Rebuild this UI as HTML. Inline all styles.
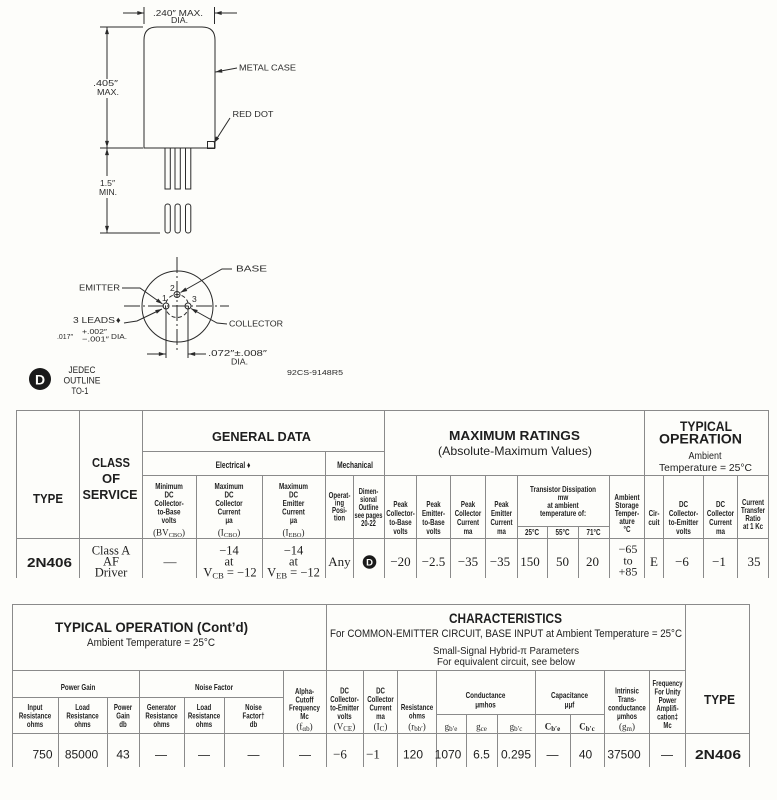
<!DOCTYPE html>
<html><head><meta charset="utf-8">
<style>
html,body{margin:0;padding:0;background:#fdfdfa;}
svg{display:block}
text{fill:#1e1e1e;font-family:"Liberation Sans",sans-serif}
.d{font-size:8.5px;fill:#2a2a2a}
.n{font-weight:bold;font-size:8.5px;text-anchor:middle}
.m{text-anchor:middle}
.s{font-family:"Liberation Serif",serif}
.b{font-weight:bold}
.g line{stroke:#8a8a8a;stroke-width:1}
.dr line,.dr path,.dr polyline,.dr rect,.dr circle{stroke:#2a2a2a;stroke-width:1;fill:none}
</style></head>
<body>
<svg width="777" height="800" viewBox="0 0 777 800" xmlns="http://www.w3.org/2000/svg">
<defs>
<marker id="ar" viewBox="0 0 10 6" refX="10" refY="3" markerWidth="7" markerHeight="4" orient="auto" markerUnits="userSpaceOnUse"><path d="M0,0L10,3L0,6z" fill="#2a2a2a"/></marker>
</defs>

<!-- ================= DRAWING ================= -->
<g class="dr">
<path d="M144,148 L144,40 Q144,27 157,27 L202,27 Q215,27 215,40 L215,148 Z"/>
<rect x="207.5" y="141.5" width="7" height="7"/>
<rect x="165" y="148" width="5.3" height="41"/>
<rect x="175" y="148" width="5.3" height="41"/>
<rect x="185.5" y="148" width="5.3" height="41"/>
<rect x="165" y="204" width="5.3" height="29" rx="2.5"/>
<rect x="175" y="204" width="5.3" height="29" rx="2.5"/>
<rect x="185.5" y="204" width="5.3" height="29" rx="2.5"/>
<line x1="123" y1="13" x2="144" y2="13" marker-end="url(#ar)"/>
<line x1="237" y1="13" x2="215" y2="13" marker-end="url(#ar)"/>
<line x1="144" y1="7" x2="144" y2="24"/>
<line x1="214.5" y1="7" x2="214.5" y2="24"/>
<line x1="100" y1="27" x2="143" y2="27"/>
<line x1="100" y1="148" x2="143" y2="148"/>
<line x1="100" y1="233" x2="160" y2="233"/>
<line x1="107" y1="79" x2="107" y2="27.5" marker-end="url(#ar)"/>
<line x1="107" y1="98" x2="107" y2="147.5" marker-end="url(#ar)"/>
<line x1="107" y1="176" x2="107" y2="148.5" marker-end="url(#ar)"/>
<line x1="107" y1="198" x2="107" y2="232.5" marker-end="url(#ar)"/>
<line x1="237" y1="68" x2="215.5" y2="72" marker-end="url(#ar)"/>
<line x1="230" y1="118" x2="214" y2="143" marker-end="url(#ar)"/>
<circle cx="177.5" cy="306.5" r="35.5"/>
<line x1="124" y1="306" x2="229" y2="306" stroke-dasharray="16 3 2 3"/>
<line x1="177" y1="257" x2="177" y2="352" stroke-dasharray="16 3 2 3"/>
<circle cx="177" cy="306" r="11.5" stroke-dasharray="4 2.5"/>
<circle cx="166" cy="306" r="3"/>
<circle cx="177" cy="294.5" r="3"/>
<circle cx="188" cy="306" r="3"/>
<line x1="166" y1="309" x2="166" y2="358"/>
<line x1="188" y1="309" x2="188" y2="358"/>
<line x1="147" y1="354" x2="165.5" y2="354" marker-end="url(#ar)"/>
<line x1="206" y1="354" x2="188.5" y2="354" marker-end="url(#ar)"/>
<polyline points="232,269 222,269 180.5,292.5" marker-end="url(#ar)"/>
<polyline points="122,288 140,288 162.5,304" marker-end="url(#ar)"/>
<polyline points="227,324 217,323 191,308.5" marker-end="url(#ar)"/>
<polyline points="124,323 137,321 162,309" marker-end="url(#ar)"/>
</g>
<g>
<text class="d" x="153" y="16" textLength="50" lengthAdjust="spacingAndGlyphs">.240″ MAX.</text>
<text class="d" x="171" y="23" textLength="17" lengthAdjust="spacingAndGlyphs">DIA.</text>
<text class="d" x="239" y="70.5" textLength="57" lengthAdjust="spacingAndGlyphs">METAL CASE</text>
<text class="d" x="93" y="86" textLength="25" lengthAdjust="spacingAndGlyphs">.405″</text>
<text class="d" x="97" y="95" textLength="22" lengthAdjust="spacingAndGlyphs">MAX.</text>
<text class="d" x="232.5" y="117" textLength="41" lengthAdjust="spacingAndGlyphs">RED DOT</text>
<text class="d" x="100" y="186" textLength="15" lengthAdjust="spacingAndGlyphs">1.5″</text>
<text class="d" x="99" y="195" textLength="18" lengthAdjust="spacingAndGlyphs">MIN.</text>
<text class="d" x="236" y="271.5" textLength="31" lengthAdjust="spacingAndGlyphs">BASE</text>
<text class="d" x="79" y="290.5" textLength="41" lengthAdjust="spacingAndGlyphs">EMITTER</text>
<text class="d" x="229" y="326.5" textLength="54" lengthAdjust="spacingAndGlyphs">COLLECTOR</text>
<text class="d" x="73" y="323" textLength="42" lengthAdjust="spacingAndGlyphs">3 LEADS</text>
<text class="d" x="116" y="323" style="font-size:9px">♦</text>
<text class="d" x="57" y="339" textLength="16" lengthAdjust="spacingAndGlyphs" style="font-size:7.5px">.017″</text>
<text class="d" x="82" y="334" textLength="25" lengthAdjust="spacingAndGlyphs" style="font-size:7.5px">+.002″</text>
<text class="d" x="82" y="341.5" textLength="27" lengthAdjust="spacingAndGlyphs" style="font-size:7.5px">−.001″</text>
<text class="d" x="111" y="339" textLength="16" lengthAdjust="spacingAndGlyphs" style="font-size:7.5px">DIA.</text>
<text class="d" x="170" y="291">2</text>
<text class="d" x="162" y="301">1</text>
<text class="d" x="192" y="302">3</text>
<text class="d" x="208" y="356" textLength="59" lengthAdjust="spacingAndGlyphs">.072″±.008″</text>
<text class="d" x="231" y="364.5" textLength="17" lengthAdjust="spacingAndGlyphs">DIA.</text>
<circle cx="40" cy="379" r="11" fill="#1a1a1a"/>
<text x="40" y="384.5" class="m b" style="font-size:14px;fill:#fdfdfa">D</text>
<text class="m" x="82" y="373" style="font-size:9px" textLength="27" lengthAdjust="spacingAndGlyphs">JEDEC</text>
<text class="m" x="82" y="383.5" style="font-size:9px" textLength="37" lengthAdjust="spacingAndGlyphs">OUTLINE</text>
<text class="m" x="80" y="394" style="font-size:9px" textLength="17" lengthAdjust="spacingAndGlyphs">TO-1</text>
<text class="d" x="287" y="375" style="font-size:7.5px" textLength="56" lengthAdjust="spacingAndGlyphs">92CS-9148R5</text>
</g>

<!-- ================= TABLE 1 LINES ================= -->
<g class="g">
<line x1="16" y1="410.5" x2="769" y2="410.5"/>
<line x1="16" y1="538.5" x2="769" y2="538.5"/>
<line x1="142" y1="451.5" x2="385" y2="451.5"/>
<line x1="142" y1="475.5" x2="769" y2="475.5"/>
<line x1="517" y1="526.5" x2="610" y2="526.5"/>
<line x1="16.5" y1="410" x2="16.5" y2="578"/>
<line x1="79.5" y1="410" x2="79.5" y2="578"/>
<line x1="142.5" y1="410" x2="142.5" y2="578"/>
<line x1="384.5" y1="410" x2="384.5" y2="578"/>
<line x1="644.5" y1="410" x2="644.5" y2="578"/>
<line x1="768.5" y1="410" x2="768.5" y2="578"/>
<line x1="325.5" y1="451" x2="325.5" y2="578"/>
<line x1="196.5" y1="475" x2="196.5" y2="578"/>
<line x1="262.5" y1="475" x2="262.5" y2="578"/>
<line x1="353.5" y1="475" x2="353.5" y2="578"/>
<line x1="416.5" y1="475" x2="416.5" y2="578"/>
<line x1="450.5" y1="475" x2="450.5" y2="578"/>
<line x1="485.5" y1="475" x2="485.5" y2="578"/>
<line x1="517.5" y1="475" x2="517.5" y2="578"/>
<line x1="609.5" y1="475" x2="609.5" y2="578"/>
<line x1="663.5" y1="475" x2="663.5" y2="578"/>
<line x1="703.5" y1="475" x2="703.5" y2="578"/>
<line x1="737.5" y1="475" x2="737.5" y2="578"/>
<line x1="547.5" y1="526" x2="547.5" y2="578"/>
<line x1="578.5" y1="526" x2="578.5" y2="578"/>
</g>

<!-- TABLE 1 HEADINGS -->
<text class="m b" x="48" y="503" style="font-size:12.5px" textLength="30" lengthAdjust="spacingAndGlyphs">TYPE</text>
<text class="m b" x="111" y="467" style="font-size:13px" textLength="38" lengthAdjust="spacingAndGlyphs">CLASS</text>
<text class="m b" x="111" y="483" style="font-size:13px">OF</text>
<text class="m b" x="110" y="499" style="font-size:13px" textLength="55" lengthAdjust="spacingAndGlyphs">SERVICE</text>
<text class="m b" x="261.5" y="441" style="font-size:13px" textLength="99" lengthAdjust="spacingAndGlyphs">GENERAL DATA</text>
<text class="m b" x="514.5" y="440" style="font-size:13px" textLength="131" lengthAdjust="spacingAndGlyphs">MAXIMUM RATINGS</text>
<text class="m" x="515" y="455" style="font-size:12px" textLength="154" lengthAdjust="spacingAndGlyphs">(Absolute-Maximum Values)</text>
<text class="m b" x="706" y="431" style="font-size:13.5px" textLength="52" lengthAdjust="spacingAndGlyphs">TYPICAL</text>
<text class="m b" x="700.5" y="443.5" style="font-size:13.5px" textLength="83" lengthAdjust="spacingAndGlyphs">OPERATION</text>
<text class="m" x="705" y="459" style="font-size:10px" textLength="33" lengthAdjust="spacingAndGlyphs">Ambient</text>
<text class="m" x="705.5" y="471" style="font-size:10.5px" textLength="93" lengthAdjust="spacingAndGlyphs">Temperature = 25°C</text>

<text class="n" transform="translate(233,468) scale(.74,1)" style="font-size:9px">Electrical ♦</text>
<text class="n" transform="translate(355,468) scale(.74,1)" style="font-size:9px">Mechanical</text>

<text class="n" transform="translate(169,489) scale(.74,1)"><tspan x="0">Minimum</tspan><tspan x="0" dy="8.5">DC</tspan><tspan x="0" dy="8.5">Collector-</tspan><tspan x="0" dy="8.5">to-Base</tspan><tspan x="0" dy="8.5">volts</tspan></text>
<text class="n" transform="translate(229,489) scale(.74,1)"><tspan x="0">Maximum</tspan><tspan x="0" dy="8.5">DC</tspan><tspan x="0" dy="8.5">Collector</tspan><tspan x="0" dy="8.5">Current</tspan><tspan x="0" dy="8.5">μa</tspan></text>
<text class="n" transform="translate(293.5,489) scale(.74,1)"><tspan x="0">Maximum</tspan><tspan x="0" dy="8.5">DC</tspan><tspan x="0" dy="8.5">Emitter</tspan><tspan x="0" dy="8.5">Current</tspan><tspan x="0" dy="8.5">μa</tspan></text>
<text class="m s" x="169" y="535.5" style="font-size:9px">(BV<tspan font-size="6.5" dy="1.5">CBO</tspan><tspan dy="-1.5">)</tspan></text>
<text class="m s" x="229" y="535.5" style="font-size:9px">(I<tspan font-size="6.5" dy="1.5">CBO</tspan><tspan dy="-1.5">)</tspan></text>
<text class="m s" x="293.5" y="535.5" style="font-size:9px">(I<tspan font-size="6.5" dy="1.5">EBO</tspan><tspan dy="-1.5">)</tspan></text>
<text class="n" transform="translate(339.5,498) scale(.72,1)"><tspan x="0">Operat-</tspan><tspan x="0" dy="7.5">ing</tspan><tspan x="0" dy="7.5">Posi-</tspan><tspan x="0" dy="7.5">tion</tspan></text>
<text class="n" transform="translate(368.5,494) scale(.68,1)"><tspan x="0">Dimen-</tspan><tspan x="0" dy="8">sional</tspan><tspan x="0" dy="8">Outline</tspan><tspan x="0" dy="8">see pages</tspan><tspan x="0" dy="8">20-22</tspan></text>

<text class="n" transform="translate(400.5,507) scale(.72,1)"><tspan x="0">Peak</tspan><tspan x="0" dy="9">Collector-</tspan><tspan x="0" dy="9">to-Base</tspan><tspan x="0" dy="9">volts</tspan></text>
<text class="n" transform="translate(433.5,507) scale(.72,1)"><tspan x="0">Peak</tspan><tspan x="0" dy="9">Emitter-</tspan><tspan x="0" dy="9">to-Base</tspan><tspan x="0" dy="9">volts</tspan></text>
<text class="n" transform="translate(468,507) scale(.72,1)"><tspan x="0">Peak</tspan><tspan x="0" dy="9">Collector</tspan><tspan x="0" dy="9">Current</tspan><tspan x="0" dy="9">ma</tspan></text>
<text class="n" transform="translate(501.5,507) scale(.72,1)"><tspan x="0">Peak</tspan><tspan x="0" dy="9">Emitter</tspan><tspan x="0" dy="9">Current</tspan><tspan x="0" dy="9">ma</tspan></text>
<text class="n" transform="translate(563,492) scale(.74,1)"><tspan x="0">Transistor Dissipation</tspan><tspan x="0" dy="8">mw</tspan><tspan x="0" dy="8">at ambient</tspan><tspan x="0" dy="8">temperature of:</tspan></text>
<text class="n" transform="translate(532,535) scale(.74,1)">25°C</text>
<text class="n" transform="translate(562.5,535) scale(.74,1)">55°C</text>
<text class="n" transform="translate(593.5,535) scale(.74,1)">71°C</text>
<text class="n" transform="translate(627,500) scale(.74,1)"><tspan x="0">Ambient</tspan><tspan x="0" dy="8">Storage</tspan><tspan x="0" dy="8">Temper-</tspan><tspan x="0" dy="8">ature</tspan><tspan x="0" dy="8">°C</tspan></text>
<text class="n" transform="translate(654,516) scale(.74,1)"><tspan x="0">Cir-</tspan><tspan x="0" dy="9">cuit</tspan></text>
<text class="n" transform="translate(683.5,507) scale(.74,1)"><tspan x="0">DC</tspan><tspan x="0" dy="9">Collector-</tspan><tspan x="0" dy="9">to-Emitter</tspan><tspan x="0" dy="9">volts</tspan></text>
<text class="n" transform="translate(720.5,507) scale(.74,1)"><tspan x="0">DC</tspan><tspan x="0" dy="9">Collector</tspan><tspan x="0" dy="9">Current</tspan><tspan x="0" dy="9">ma</tspan></text>
<text class="n" transform="translate(753,505) scale(.72,1)"><tspan x="0">Current</tspan><tspan x="0" dy="8">Transfer</tspan><tspan x="0" dy="8">Ratio</tspan><tspan x="0" dy="8">at 1 Kc</tspan></text>

<!-- TABLE 1 DATA -->
<text class="m b" x="49.5" y="567" style="font-size:13px" textLength="45" lengthAdjust="spacingAndGlyphs">2N406</text>
<g style="font-size:13px">
<text class="m s" x="111" y="554.5" style="font-size:12.5px">Class A</text>
<text class="m s" x="111" y="565.5" style="font-size:12.5px">AF</text>
<text class="m s" x="111" y="576.5" style="font-size:12.5px">Driver</text>
<text class="m s" x="170" y="566">—</text>
<text class="m s" x="229" y="554.5" style="font-size:12.5px">−14</text>
<text class="m s" x="229" y="565.5" style="font-size:12.5px">at</text>
<text class="m s" x="230" y="576.5" style="font-size:12.5px">V<tspan font-size="8.5" dy="2">CB</tspan><tspan dy="-2"> = −12</tspan></text>
<text class="m s" x="293.5" y="554.5" style="font-size:12.5px">−14</text>
<text class="m s" x="293.5" y="565.5" style="font-size:12.5px">at</text>
<text class="m s" x="293.5" y="576.5" style="font-size:12.5px">V<tspan font-size="8.5" dy="2">EB</tspan><tspan dy="-2"> = −12</tspan></text>
<text class="m s" x="339.5" y="566">Any</text>
<text class="m s" x="400.5" y="566">−20</text>
<text class="m s" x="433.5" y="566">−2.5</text>
<text class="m s" x="468" y="566">−35</text>
<text class="m s" x="500" y="566">−35</text>
<text class="m s" x="530" y="566">150</text>
<text class="m s" x="562.5" y="566">50</text>
<text class="m s" x="592.5" y="566">20</text>
<text class="m s" x="628" y="553" style="font-size:12px">−65</text>
<text class="m s" x="628" y="564.5" style="font-size:12px">to</text>
<text class="m s" x="628" y="575.5" style="font-size:12px">+85</text>
<text class="m s" x="654" y="566">E</text>
<text class="m s" x="682" y="566">−6</text>
<text class="m s" x="719" y="566">−1</text>
<text class="m s" x="754" y="566">35</text>
</g>
<circle cx="369.5" cy="562" r="6.8" fill="#1a1a1a"/>
<text x="369.5" y="565.5" class="m b" style="font-size:9.5px;fill:#fdfdfa">D</text>

<!-- ================= TABLE 2 LINES ================= -->
<g class="g">
<line x1="12" y1="604.5" x2="750" y2="604.5"/>
<line x1="12" y1="670.5" x2="686" y2="670.5"/>
<line x1="12" y1="733.5" x2="750" y2="733.5"/>
<line x1="12" y1="697.5" x2="284" y2="697.5"/>
<line x1="436" y1="714.5" x2="605" y2="714.5"/>
<line x1="12.5" y1="604" x2="12.5" y2="767"/>
<line x1="326.5" y1="604" x2="326.5" y2="767"/>
<line x1="685.5" y1="604" x2="685.5" y2="767"/>
<line x1="749.5" y1="604" x2="749.5" y2="767"/>
<line x1="139.5" y1="670" x2="139.5" y2="767"/>
<line x1="283.5" y1="670" x2="283.5" y2="767"/>
<line x1="363.5" y1="670" x2="363.5" y2="767"/>
<line x1="397.5" y1="670" x2="397.5" y2="767"/>
<line x1="436.5" y1="670" x2="436.5" y2="767"/>
<line x1="535.5" y1="670" x2="535.5" y2="767"/>
<line x1="604.5" y1="670" x2="604.5" y2="767"/>
<line x1="649.5" y1="670" x2="649.5" y2="767"/>
<line x1="58.5" y1="697" x2="58.5" y2="767"/>
<line x1="107.5" y1="697" x2="107.5" y2="767"/>
<line x1="184.5" y1="697" x2="184.5" y2="767"/>
<line x1="224.5" y1="697" x2="224.5" y2="767"/>
<line x1="466.5" y1="714" x2="466.5" y2="767"/>
<line x1="497.5" y1="714" x2="497.5" y2="767"/>
<line x1="570.5" y1="714" x2="570.5" y2="767"/>
</g>

<!-- TABLE 2 HEADINGS -->
<text class="m b" x="151.5" y="632" style="font-size:14px" textLength="193" lengthAdjust="spacingAndGlyphs">TYPICAL OPERATION (Cont’d)</text>
<text class="m" x="151" y="646" style="font-size:11px" textLength="128" lengthAdjust="spacingAndGlyphs">Ambient Temperature = 25°C</text>
<text class="m b" x="505.5" y="623" style="font-size:13.5px" textLength="113" lengthAdjust="spacingAndGlyphs">CHARACTERISTICS</text>
<text class="m" x="506" y="637" style="font-size:11px" textLength="352" lengthAdjust="spacingAndGlyphs">For COMMON-EMITTER CIRCUIT, BASE INPUT at Ambient Temperature = 25°C</text>
<text class="m" x="506" y="654" style="font-size:10.5px" textLength="146" lengthAdjust="spacingAndGlyphs">Small-Signal Hybrid-π Parameters</text>
<text class="m" x="506" y="665" style="font-size:10.5px" textLength="138" lengthAdjust="spacingAndGlyphs">For equivalent circuit, see below</text>
<text class="m b" x="719.5" y="704" style="font-size:13px" textLength="31" lengthAdjust="spacingAndGlyphs">TYPE</text>

<text class="n" transform="translate(78,690) scale(.74,1)">Power Gain</text>
<text class="n" transform="translate(214,690) scale(.74,1)">Noise Factor</text>
<text class="n" transform="translate(35,710) scale(.72,1)"><tspan x="0">Input</tspan><tspan x="0" dy="8.5">Resistance</tspan><tspan x="0" dy="8.5">ohms</tspan></text>
<text class="n" transform="translate(82.5,710) scale(.72,1)"><tspan x="0">Load</tspan><tspan x="0" dy="8.5">Resistance</tspan><tspan x="0" dy="8.5">ohms</tspan></text>
<text class="n" transform="translate(123,710) scale(.72,1)"><tspan x="0">Power</tspan><tspan x="0" dy="8.5">Gain</tspan><tspan x="0" dy="8.5">db</tspan></text>
<text class="n" transform="translate(161.5,710) scale(.72,1)"><tspan x="0">Generator</tspan><tspan x="0" dy="8.5">Resistance</tspan><tspan x="0" dy="8.5">ohms</tspan></text>
<text class="n" transform="translate(204,710) scale(.72,1)"><tspan x="0">Load</tspan><tspan x="0" dy="8.5">Resistance</tspan><tspan x="0" dy="8.5">ohms</tspan></text>
<text class="n" transform="translate(253.5,710) scale(.72,1)"><tspan x="0">Noise</tspan><tspan x="0" dy="8.5">Factor†</tspan><tspan x="0" dy="8.5">db</tspan></text>
<text class="n" transform="translate(304.5,694) scale(.72,1)"><tspan x="0">Alpha-</tspan><tspan x="0" dy="8.3">Cutoff</tspan><tspan x="0" dy="8.3">Frequency</tspan><tspan x="0" dy="8.3">Mc</tspan></text>
<text class="m s" x="304.5" y="729.5" style="font-size:9px">(f<tspan font-size="7" dy="1.5">αb</tspan><tspan dy="-1.5">)</tspan></text>
<text class="n" transform="translate(344.5,693.5) scale(.72,1)"><tspan x="0">DC</tspan><tspan x="0" dy="8.5">Collector-</tspan><tspan x="0" dy="8.5">to-Emitter</tspan><tspan x="0" dy="8.5">volts</tspan></text>
<text class="m s" x="344.5" y="729.5" style="font-size:9px">(V<tspan font-size="7" dy="1.5">CE</tspan><tspan dy="-1.5">)</tspan></text>
<text class="n" transform="translate(380.5,693.5) scale(.72,1)"><tspan x="0">DC</tspan><tspan x="0" dy="8.5">Collector</tspan><tspan x="0" dy="8.5">Current</tspan><tspan x="0" dy="8.5">ma</tspan></text>
<text class="m s" x="380.5" y="729.5" style="font-size:9px">(I<tspan font-size="7" dy="1.5">C</tspan><tspan dy="-1.5">)</tspan></text>
<text class="n" transform="translate(417,710) scale(.72,1)"><tspan x="0">Resistance</tspan><tspan x="0" dy="8.5">ohms</tspan></text>
<text class="m s" x="417" y="729.5" style="font-size:9px">(r<tspan font-size="7" dy="1.5">bb′</tspan><tspan dy="-1.5">)</tspan></text>
<text class="n" transform="translate(485.5,698) scale(.74,1)"><tspan x="0">Conductance</tspan><tspan x="0" dy="9.5">μmhos</tspan></text>
<text class="m s" x="451" y="729.5" style="font-size:9px">g<tspan font-size="7" dy="1.5">b′e</tspan></text>
<text class="m s" x="481.5" y="729.5" style="font-size:9px">g<tspan font-size="7" dy="1.5">ce</tspan></text>
<text class="m s" x="516" y="729.5" style="font-size:9px">g<tspan font-size="7" dy="1.5">b′c</tspan></text>
<text class="n" transform="translate(569.5,698) scale(.74,1)"><tspan x="0">Capacitance</tspan><tspan x="0" dy="9.5">μμf</tspan></text>
<text class="m s b" x="552.5" y="729.5" style="font-size:9px">C<tspan font-size="7" dy="1.5">b′e</tspan></text>
<text class="m s b" x="587" y="729.5" style="font-size:9px">C<tspan font-size="7" dy="1.5">b′c</tspan></text>
<text class="n" transform="translate(627,693.5) scale(.72,1)"><tspan x="0">Intrinsic</tspan><tspan x="0" dy="8.5">Trans-</tspan><tspan x="0" dy="8.5">conductance</tspan><tspan x="0" dy="8.5">μmhos</tspan></text>
<text class="m s" x="627" y="729.5" style="font-size:9px">(g<tspan font-size="7" dy="1.5">m</tspan><tspan dy="-1.5">)</tspan></text>
<text class="n" transform="translate(667.5,686) scale(.7,1)"><tspan x="0">Frequency</tspan><tspan x="0" dy="8.4">For Unity</tspan><tspan x="0" dy="8.4">Power</tspan><tspan x="0" dy="8.4">Amplifi-</tspan><tspan x="0" dy="8.4">cation‡</tspan><tspan x="0" dy="8.4">Mc</tspan></text>

<!-- TABLE 2 DATA -->
<g style="font-size:12px">
<text class="m" x="42.5" y="758.5">750</text>
<text class="m" x="81.5" y="758.5">85000</text>
<text class="m" x="123" y="758.5">43</text>
<text class="m" x="161" y="758.5">—</text>
<text class="m" x="204" y="758.5">—</text>
<text class="m" x="253.5" y="758.5">—</text>
<text class="m" x="305" y="758.5">—</text>
<text class="m s" x="340" y="758.5" style="font-size:13px">−6</text>
<text class="m s" x="373" y="758.5" style="font-size:13px">−1</text>
<text class="m" x="413" y="758.5">120</text>
<text class="m" x="448" y="758.5">1070</text>
<text class="m" x="481.5" y="758.5">6.5</text>
<text class="m" x="516" y="758.5">0.295</text>
<text class="m" x="552.5" y="758.5">—</text>
<text class="m" x="585.5" y="758.5">40</text>
<text class="m" x="624" y="758.5">37500</text>
<text class="m" x="667" y="758.5">—</text>
</g>
<text class="m b" x="718" y="759" style="font-size:13px" textLength="46" lengthAdjust="spacingAndGlyphs">2N406</text>
</svg>
</body></html>
